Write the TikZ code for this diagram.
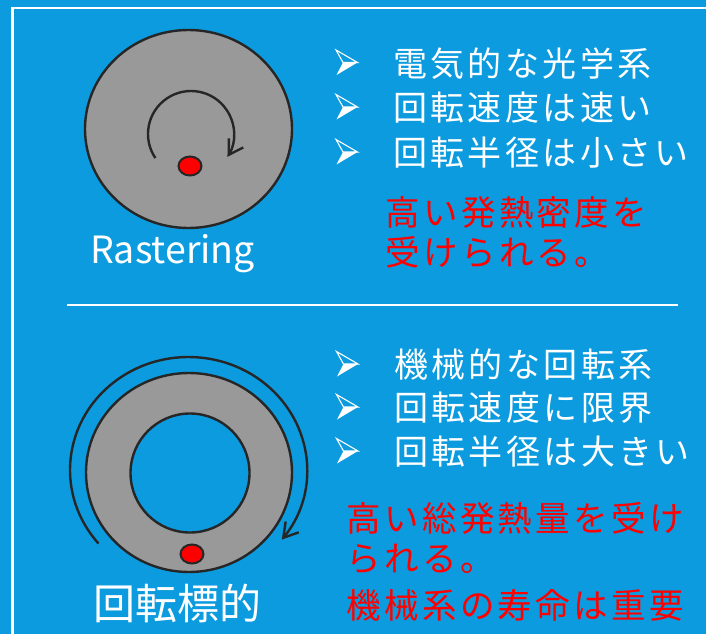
\documentclass[tikz,border=0pt]{standalone}
\usepackage{fontspec}
\setmainfont{Noto Sans CJK JP}
\newfontfamily\jp[LetterSpace=10]{Noto Sans CJK JP}
\usetikzlibrary{arrows.meta}
\definecolor{bg}{RGB}{11,155,222}
\definecolor{disk}{RGB}{153,153,153}
\definecolor{edge}{RGB}{38,38,38}
\definecolor{hot}{RGB}{255,0,0}
\begin{document}
\begin{tikzpicture}[x=1pt,y=-1pt,
  arrowbullet/.pic={
    \draw[white,line width=1.1pt,line join=miter] (-10.5,-12.5) -- (11,0) -- (-3.5,0) -- cycle;
    \fill[white] (-3.5,0) -- (11,0) -- (-10,12.5) -- cycle;
  },
  item/.style={anchor=west,inner sep=0,text=white,font=\jp\fontsize{34}{34}\selectfont},
  note/.style={anchor=west,inner sep=0,text=hot,font=\jp\fontsize{34.5}{34.5}\selectfont},
  diskshape/.style={draw=edge,line width=2.4pt,fill=disk},
  rot/.style={draw=edge,line width=2.4pt,-{Straight Barb[length=14pt,width=17pt]}},
  spot/.style={draw=edge,line width=2pt,fill=hot},
  rule/.style={draw=white,line width=2.2pt}
]
\fill[bg] (0,0) rectangle (706,634);
\useasboundingbox (0,0) rectangle (706,634);
% frame
\draw[rule] (12.5,634) -- (12.5,8.3) -- (706,8.3);
% separator
\draw[rule] (67,305) -- (678,305);

% top disk
\draw[diskshape] (188.5,129) ellipse [x radius=103.5, y radius=99];
\draw[rot] (191,134) ++(146:43) arc [start angle=146, end angle=392, radius=43];
\draw[spot] (190,166) ellipse [x radius=11.5, y radius=9.5];
\node[anchor=base west,inner sep=0,text=white,font=\fontsize{37.5}{37.5}\selectfont] (rlab) at (90,263) {Rastering};

% bottom annulus
\draw[diskshape,even odd rule] (189,472.5) ellipse [x radius=103, y radius=99.5] (190,473) circle [radius=59.5];
\draw[rot] (188.5,470) ++(139.4:118.5 and 113) arc [start angle=139.4, end angle=398, x radius=118.5, y radius=113];
\draw[spot] (192,554) ellipse [x radius=11.5, y radius=9.5];
\node[anchor=west,inner sep=0,text=white,font=\fontsize{42}{42}\selectfont] (tlab) at (93,603.5) {回転標的};

% top text
\pic at (346.5,62.5) {arrowbullet};
\pic at (346.5,107) {arrowbullet};
\pic at (346.5,152) {arrowbullet};
\node[item] (t1) at (393,64) {電気的な光学系};
\node[item] (t2) at (393,108) {回転速度は速い};
\node[item] (t3) at (393,153) {回転半径は小さい};
\node[note] (n1) at (385,212) {高い発熱密度を};
\node[note] (n2) at (385,252) {受けられる。};

% bottom text
\pic at (347,364) {arrowbullet};
\pic at (347,407) {arrowbullet};
\pic at (347,451) {arrowbullet};
\node[item] (t4) at (394,365) {機械的な回転系};
\node[item] (t5) at (394,408) {回転速度に限界};
\node[item] (t6) at (394,452) {回転半径は大きい};
\node[note] (n3) at (346,518) {高い総発熱量を受け};
\node[note] (n4) at (346,559) {られる。};
\node[note] (n5) at (346,605) {機械系の寿命は重要};
\end{tikzpicture}
\end{document}
